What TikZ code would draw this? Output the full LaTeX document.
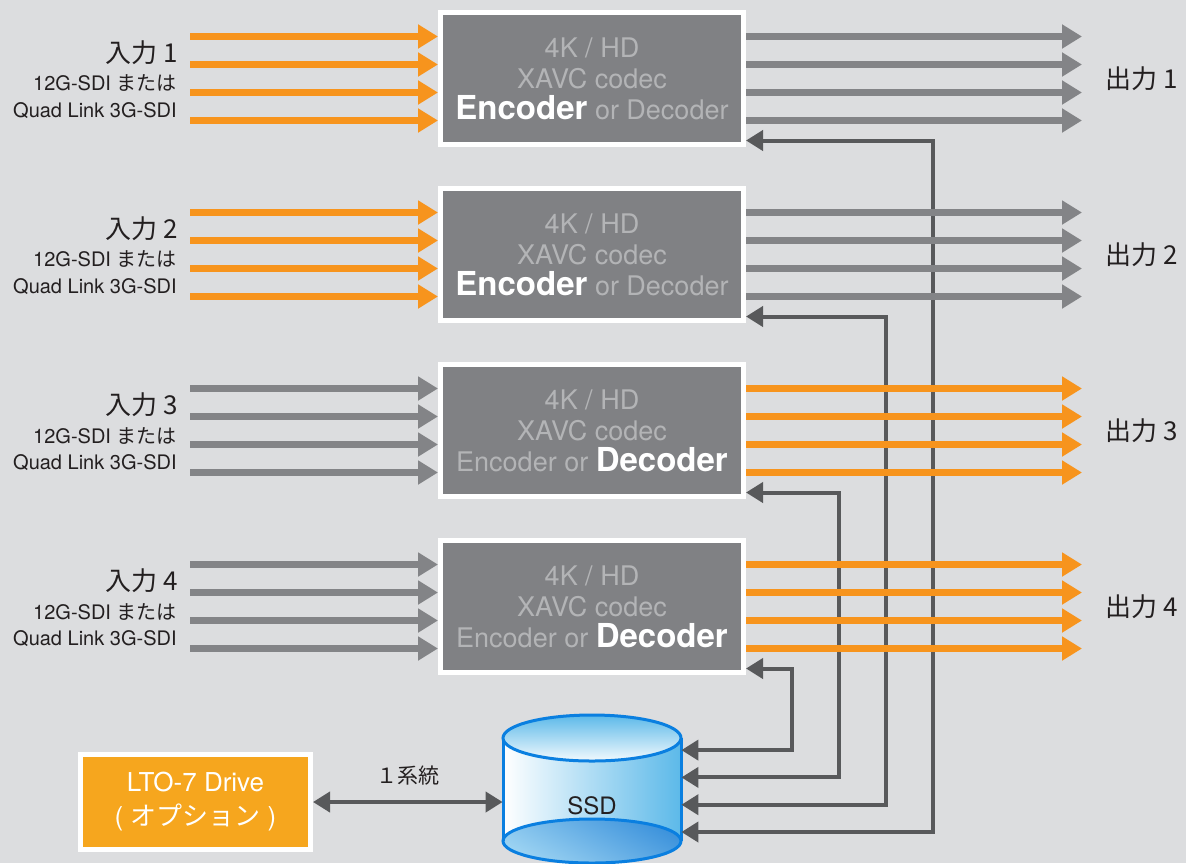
\documentclass[tikz,border=0pt]{standalone}
\usepackage{fontspec}
\setmainfont{TeX Gyre Heros}
\newfontfamily\jp{Noto Sans CJK JP}
\usepackage{xcolor}
\usepackage{tikz}
\usetikzlibrary{positioning, arrows.meta}
\definecolor{bg}{HTML}{DCDDDF}
\definecolor{boxgray}{HTML}{808184}
\definecolor{linegray}{HTML}{838487}
\definecolor{retgray}{HTML}{58595B}
\definecolor{sigorange}{HTML}{F7941D}
\definecolor{ltoorange}{HTML}{F6A61E}
\definecolor{textgray}{HTML}{B3B4B6}
\definecolor{labeltext}{HTML}{231F20}
\definecolor{ssdblue}{HTML}{0A7FE0}
\definecolor{ssdlight}{HTML}{5CB9E9}
\definecolor{ssdmid}{HTML}{3D93DC}
\definecolor{ssdpale}{HTML}{9CD3F2}
\newcommand{\modeon}[1]{{\fontsize{16.5}{18}\selectfont\bfseries\color{white}#1}}
\newcommand{\encmode}{\modeon{Encoder} or Decoder}
\newcommand{\decmode}{Encoder or \modeon{Decoder}}

\begin{document}
\begin{tikzpicture}[
		x=0.5pt, y=-0.5pt,
		codec/.style={draw=white, line width=2.5pt, fill=boxgray, minimum width=151.5pt, minimum height=66pt, inner sep=0pt, align=center, text=textgray, font=\fontsize{13.5}{15.5}\selectfont},
		lto/.style={draw=white, line width=2.5pt, fill=ltoorange, minimum width=115pt, minimum height=47.5pt, inner sep=0pt, align=center, text=white, font=\fontsize{13}{17}\selectfont},
		inlabel/.style={anchor=east, inner sep=0pt, text=labeltext, font=\jp\fontsize{13}{15}\selectfont},
		outlabel/.style={anchor=west, inner sep=0pt, text=labeltext, font=\jp\fontsize{13}{15}\selectfont},
		sublabel/.style={anchor=east, inner sep=0pt, text=labeltext, font=\fontsize{10}{12}\selectfont},
		sig/.style={line width=3.5pt, -{Triangle[length=10pt, width=11.5pt]}},
		ret/.style={draw=retgray, line width=2pt, {Triangle[length=8.5pt, width=10pt]}-{Triangle[length=8.5pt, width=10pt]}}
		]
		\useasboundingbox (0,0) rectangle (1186,863);
		\fill[bg] (0,0) rectangle (1186,863);
		
		% SSD
		\shade[left color=white, right color=ssdlight] (503,738) rectangle (681,841);
		\shade[top color=ssdmid, bottom color=ssdpale, shading angle=-30] (592,841) ellipse [x radius=44.5pt, y radius=11pt];
		\draw[ssdblue, line width=1.5pt] (592,841) ellipse [x radius=44.5pt, y radius=11pt];
		\draw[ssdblue, line width=1.5pt] (503,738) -- (503,841) (681,738) -- (681,841);
		\shade[top color=ssdlight, bottom color=white!92!ssdlight] (592,738) ellipse [x radius=44.5pt, y radius=11.5pt];
		\draw[ssdblue, line width=1.5pt] (592,738) ellipse [x radius=44.5pt, y radius=11.5pt];
		\node[minimum width=89pt, inner sep=0pt, text=labeltext, font=\fontsize{12}{14}\selectfont] (ssd) at (592,806) {SSD};
		
		\foreach \i/\inc/\outc/\mode in {1/sigorange/linegray/\encmode, 2/sigorange/linegray/\encmode, 3/linegray/sigorange/\decmode, 4/linegray/sigorange/\decmode} {
			\pgfmathsetmacro{\y}{78.5+176*(\i-1)}
			\node[codec] (codec\i) at (592,\y) {4K / HD\\XAVC codec\\\mode};
			\node[inlabel] (in\i) at (178,\y-26) {入力 \i};
			\node[sublabel] (inA\i) at (177,\y+5) {12G-SDI {\jp または}};
			\node[sublabel] (inB\i) at (177,\y+32) {Quad Link 3G-SDI};
			\node[outlabel] (out\i) at (1105,\y) {出力 \i};
		}
		
		% return paths to the SSD
		\foreach \i in {1,...,4} {
			\pgfmathsetmacro{\y}{78.5+176*(\i-1)+62}
			\pgfmathsetmacro{\xv}{933-47*(\i-1)}
			\pgfmathsetmacro{\ys}{832-27.3*(\i-1)}
			\coordinate (turn\i) at (\xv,\y);
			\coordinate (foot\i) at (\xv,\ys);
			\draw[ret] (codec\i.east |- turn\i) -- (turn\i) -- (foot\i) -- (ssd.east |- foot\i);
		}
		
		\foreach \i/\inc/\outc in {1/sigorange/linegray, 2/sigorange/linegray, 3/linegray/sigorange, 4/linegray/sigorange} {
			\pgfmathsetmacro{\y}{78.5+176*(\i-1)}
			\foreach \k in {-42,-14,14,42} {
				\coordinate (src\i\k) at (190,\y+\k);
				\coordinate (dst\i\k) at (1082,\y+\k);
				\draw[sig, \inc] (src\i\k) -- (codec\i.west |- src\i\k);
				\draw[sig, \outc] (codec\i.east |- dst\i\k) -- (dst\i\k);
			}
		}
		
		\node[lto] (lto) at (195.5,802) {LTO-7 Drive\\( {\jp オプション} )};
		\draw[ret] (lto.east) -- node[above=4pt, text=labeltext, font=\jp\fontsize{10.5}{12}\selectfont] (link) {１系統} (lto.east -| ssd.west);
\end{tikzpicture}
\end{document}
